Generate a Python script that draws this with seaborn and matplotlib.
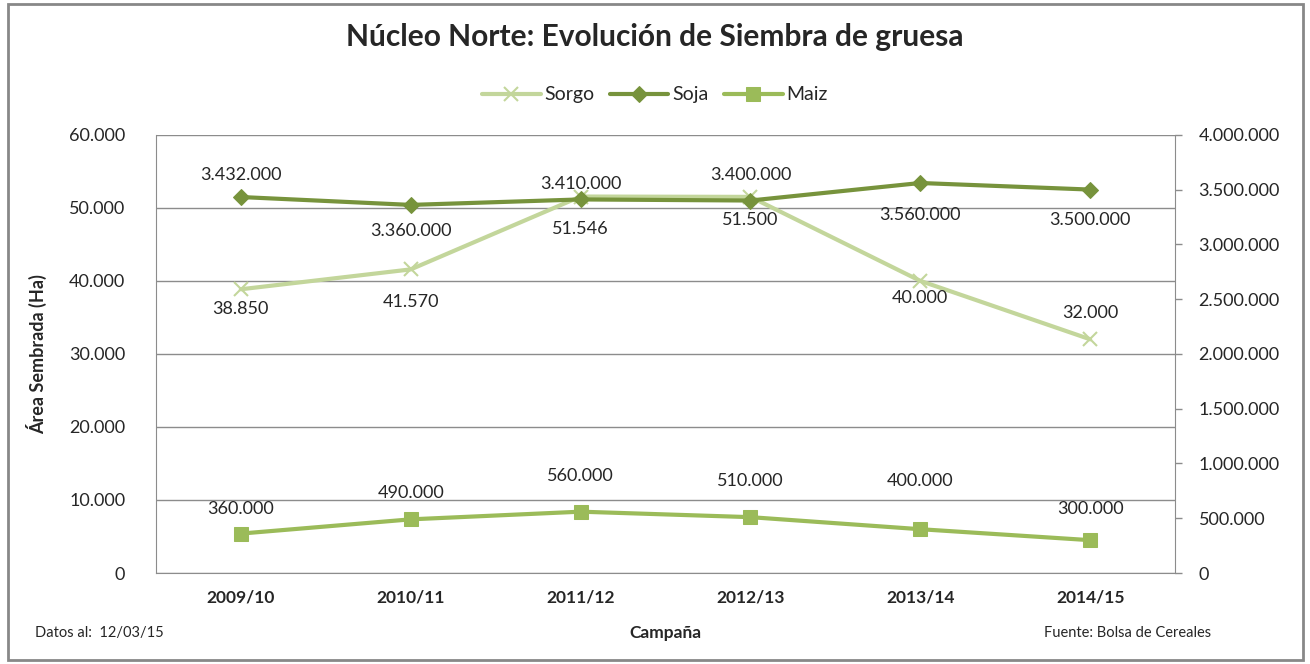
import seaborn as sns
import matplotlib.pyplot as plt
import matplotlib.ticker as mticker
import pandas as pd

campanas = ["2009/10", "2010/11", "2011/12", "2012/13", "2013/14", "2014/15"]
sorgo = [38850, 41570, 51546, 51500, 40000, 32000]
soja = [3432000, 3360000, 3410000, 3400000, 3560000, 3500000]
maiz = [360000, 490000, 560000, 510000, 400000, 300000]

# desplazamiento vertical de las etiquetas (px, positivo = arriba), como en el original
off_sorgo = [-20, -33, -32, -23, -17, 26]
off_soja = [22, -26, 15, 26, -32, -30]
off_maiz = [25, 26, 36, 36, 48, 31]

c_sorgo = "#c3d69b"
c_soja = "#77933c"
c_maiz = "#9bbb59"


def fmt(v):
    return f"{v:,.0f}".replace(",", ".")


sns.set_style("white")
plt.rcParams["font.family"] = ["Lato", "DejaVu Sans"]

df = pd.DataFrame({"Campaña": campanas, "Sorgo": sorgo, "Soja": soja, "Maiz": maiz})
df["x"] = range(len(campanas))

fig = plt.figure(figsize=(13.1, 6.64), dpi=100)
ax = fig.add_axes([0.119, 0.137, 0.778, 0.66])
ax2 = ax.twinx()

sns.lineplot(data=df, x="x", y="Sorgo", ax=ax, color=c_sorgo, lw=3,
             marker="x", markersize=10, markeredgewidth=1.5, markeredgecolor=c_sorgo,
             label="Sorgo", legend=False, zorder=3)
sns.lineplot(data=df, x="x", y="Soja", ax=ax2, color=c_soja, lw=3,
             marker="D", markersize=8, markeredgecolor=c_soja,
             label="Soja", legend=False)
sns.lineplot(data=df, x="x", y="Maiz", ax=ax2, color=c_maiz, lw=3,
             marker="s", markersize=10, markeredgecolor=c_maiz,
             label="Maiz", legend=False)

ax.set_ylim(0, 60000)
ax2.set_ylim(0, 4000000)
ax.set_xlim(-0.5, len(campanas) - 0.5)
ax.yaxis.set_major_locator(mticker.MultipleLocator(10000))
ax2.yaxis.set_major_locator(mticker.MultipleLocator(500000))
ax.yaxis.set_major_formatter(mticker.FuncFormatter(lambda v, p: fmt(v)))
ax2.yaxis.set_major_formatter(mticker.FuncFormatter(lambda v, p: fmt(v)))
ax.set_xticks(df["x"])
ax.set_xticklabels(campanas, fontweight="bold", fontsize=12.5)
ax.tick_params(axis="y", labelsize=13, length=0, pad=22)
ax2.tick_params(axis="y", labelsize=13, length=5, width=1, color="#8c8c8c",
                direction="out", pad=12)
ax.tick_params(axis="x", length=0, pad=12)

ax.grid(axis="y", color="#8c8c8c", lw=1)
ax.set_axisbelow(True)
for a in (ax, ax2):
    for s in ["top", "right", "left"]:
        a.spines[s].set_visible(False)
ax.spines["left"].set_visible(True)
ax.spines["left"].set_color("#8c8c8c")
ax.spines["bottom"].set_color("#8c8c8c")
ax2.spines["bottom"].set_visible(False)
ax2.spines["right"].set_visible(True)
ax2.spines["right"].set_color("#8c8c8c")

ax.set_xlabel("Campaña", fontweight="bold", fontsize=12.5, labelpad=14)
ax.set_ylabel("Área Sembrada (Ha)", fontweight="bold", fontsize=13, labelpad=16)
ax2.set_ylabel("")

px = 0.72
for i in range(len(campanas)):
    ax.annotate(fmt(sorgo[i]), (i, sorgo[i]), textcoords="offset points",
                xytext=(0, off_sorgo[i] * px), ha="center", va="center", fontsize=13)
    ax2.annotate(fmt(soja[i]), (i, soja[i]), textcoords="offset points",
                 xytext=(0, off_soja[i] * px), ha="center", va="center", fontsize=13)
    ax2.annotate(fmt(maiz[i]), (i, maiz[i]), textcoords="offset points",
                 xytext=(0, off_maiz[i] * px), ha="center", va="center", fontsize=13)

h1, l1 = ax.get_legend_handles_labels()
h2, l2 = ax2.get_legend_handles_labels()
fig.legend(h1 + h2, l1 + l2, loc="center", bbox_to_anchor=(0.5, 0.857), ncol=3,
           frameon=False, fontsize=14, handlelength=3, columnspacing=0.8, handletextpad=0.2)

fig.suptitle("Núcleo Norte: Evolución de Siembra de gruesa", fontweight="bold",
             fontsize=21.5, y=0.965)
fig.text(0.027, 0.04, "Datos al:  12/03/15", fontsize=10.5)
fig.text(0.797, 0.04, "Fuente: Bolsa de Cereales", fontsize=10.5)

fig.patches.append(plt.Rectangle((0.006, 0.006), 0.989, 0.988, transform=fig.transFigure,
                                 fill=False, edgecolor="#888888", lw=2))

fig.savefig("out.png", dpi=100)
